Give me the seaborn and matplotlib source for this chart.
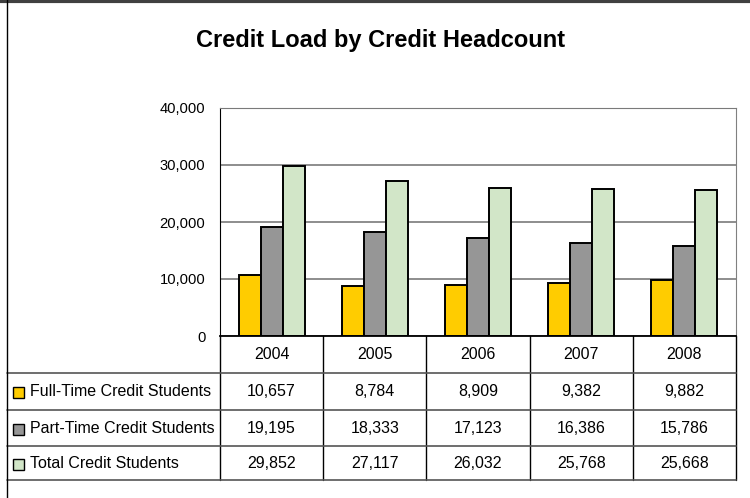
import pandas as pd
import matplotlib.pyplot as plt
import seaborn as sns
from matplotlib import font_manager, transforms
from matplotlib.lines import Line2D
from matplotlib.patches import Rectangle

years = ['2004', '2005', '2006', '2007', '2008']
seriesNames = ['Full-Time Credit Students', 'Part-Time Credit Students', 'Total Credit Students']
fullTime = [10657, 8784, 8909, 9382, 9882]
partTime = [19195, 18333, 17123, 16386, 15786]
totalCredit = [29852, 27117, 26032, 25768, 25668]
seriesColors = ['#FFCC00', '#969696', '#D2E6C8']
yTicks = [0, 10000, 20000, 30000, 40000]

W, H = 750, 498


def fy(px):
    return 1 - px / H


def fx(px):
    return px / W


sns.set_style("white")
fontNames = {f.name for f in font_manager.fontManager.ttflist}
if 'Liberation Sans Narrow' in fontNames:
    bodyFont, scale = 'Liberation Sans Narrow', 1.0
else:
    bodyFont, scale = 'Liberation Sans', 0.85
plt.rcParams['font.family'] = ['Liberation Sans', 'DejaVu Sans']
plt.rcParams['text.color'] = 'black'
plt.rcParams['ytick.labelcolor'] = 'black'

df = pd.DataFrame({
    'Year': years * 3,
    'Series': [seriesNames[0]] * 5 + [seriesNames[1]] * 5 + [seriesNames[2]] * 5,
    'Value': fullTime + partTime + totalCredit,
})

fig = plt.figure(figsize=(W / 100, H / 100), dpi=100)
ax = fig.add_axes([fx(220), fy(336), fx(736) - fx(220), fy(108) - fy(336)])

sns.barplot(
    data=df, x='Year', y='Value', hue='Series', order=years, hue_order=seriesNames,
    palette=seriesColors, saturation=1, width=0.64, gap=0,
    edgecolor='black', linewidth=1.4, legend=False, ax=ax
)

ax.set_xlim(-0.5, len(years) - 0.5)
ax.set_ylim(0, 40000)
ax.set_yticks(yTicks)
ax.set_yticklabels([f'{v:,}' for v in yTicks], fontfamily=bodyFont, fontsize=12.5 * scale,
                   color='black')
ax.set_xlabel('')
ax.set_ylabel('')
ax.tick_params(axis='x', length=0, labelbottom=False)
ax.tick_params(axis='y', direction='out', length=5, width=1, color='black', pad=5.5)
ax.yaxis.grid(True, color='#7a7a7a', linewidth=1.2)
ax.set_axisbelow(True)
ax.spines['left'].set_color('black')
ax.spines['bottom'].set_color('black')
ax.spines['bottom'].set_linewidth(1.3)
ax.spines['right'].set_color('#808080')
ax.spines['top'].set_color('#7a7a7a')
for s in ax.spines.values():
    s.set_visible(True)

fig.text(fx(381), fy(47), 'Credit Load by Credit Headcount', ha='center', va='baseline',
         fontsize=17, fontweight='bold', color='black',
         family=['Liberation Sans', 'DejaVu Sans'])

# data table under the plot
blend = transforms.blended_transform_factory(ax.transData, fig.transFigure)
rowEdges = [336, 373, 410, 446, 480]
tableSize = 13.6 * scale

for i in range(len(years) + 1):
    fig.add_artist(Line2D([i - 0.5, i - 0.5], [fy(336), fy(480)], color='black',
                          linewidth=1, transform=blend))
for r in rowEdges[1:]:
    fig.add_artist(Line2D([fx(7), fx(736)], [fy(r), fy(r)], color='#555555', linewidth=1.2,
                          transform=fig.transFigure))

for i, yr in enumerate(years):
    fig.text(i, fy((rowEdges[0] + rowEdges[1]) / 2), yr, ha='center', va='center',
             fontsize=tableSize, family=bodyFont, transform=blend)

rows = [fullTime, partTime, totalCredit]
for k, (name, vals, col) in enumerate(zip(seriesNames, rows, seriesColors)):
    yc = (rowEdges[k + 1] + rowEdges[k + 2]) / 2
    fig.add_artist(Rectangle((fx(13), fy(yc + 6.5)), fx(11), fy(0) - fy(11),
                             facecolor=col, edgecolor='black', linewidth=1,
                             transform=fig.transFigure))
    fig.text(fx(30), fy(yc), name, ha='left', va='center', fontsize=tableSize, family=bodyFont)
    for i, v in enumerate(vals):
        fig.text(i, fy(yc), f'{v:,}', ha='center', va='center', fontsize=tableSize,
                 family=bodyFont, transform=blend)

# chart frame
fig.add_artist(Line2D([0, 1], [fy(1.5), fy(1.5)], color='#404040', linewidth=3,
                      transform=fig.transFigure))
fig.add_artist(Line2D([fx(7), fx(7)], [0, 1], color='black', linewidth=1,
                      transform=fig.transFigure))

fig.savefig('out.png', dpi=100)
plt.close(fig)
